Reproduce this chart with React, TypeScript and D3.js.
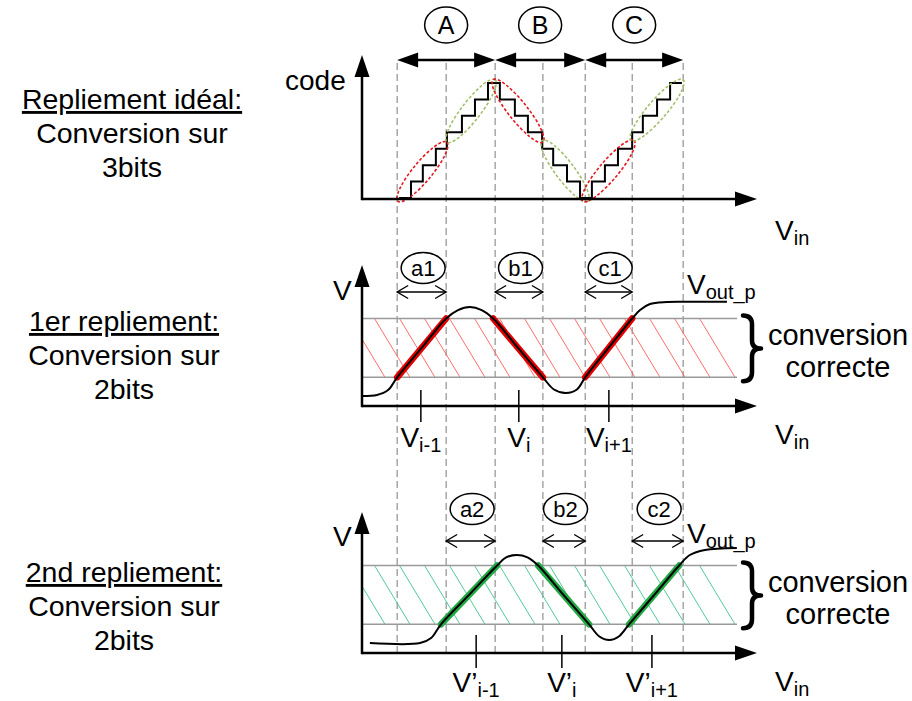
import React from 'react';
import * as d3 from 'd3';

const W = 912;
const H = 701;
const FONT = 'Liberation Sans, Arial, Helvetica, sans-serif';

// Vin positions of the dashed folding boundaries
const boundaries = [8.9, 21.3, 33.7, 45.8, 56.5, 68.4, 81.3];
const zones = ['A', 'B', 'C'];

// ideal 3-bit folded staircase
const stairEdges = [9.4, 12.4, 15.4, 18.7, 21.5, 25.3, 28.6, 31.9, 34.9, 38.7, 42.0, 45.6, 48.4, 51.9, 55.2, 58.2, 61.5, 64.8, 68.4, 71.1, 74.7, 78.0, 81.0];
const stairCodes = [0, 1, 2, 3, 4, 5, 6, 7, 6, 5, 4, 3, 2, 1, 0, 1, 2, 3, 4, 5, 6, 7];

// dotted groupings on the staircase: [vin, code] start / end, and which folding they belong to
const groupStart = [[9.1, -0.2], [21.5, 3.4], [33.2, 7.2], [45.6, 3.5], [55.9, -0.2], [68.1, 3.5]];
const groupEnd = [[21.5, 3.4], [33.7, 7.2], [45.8, 3.4], [57.2, -0.2], [68.9, 3.5], [81.3, 7.2]];
const groupFold = [1, 2, 1, 2, 1, 2];

// 1st folding output
const fold1Vin = [0, 3.8, 6.6, 8.9, 15.1, 21.3, 24.3, 27.3, 30.3, 33.2, 39.5, 45.8, 48.6, 51.6, 54.4, 56.5, 62.4, 68.4, 70.4, 72.9, 77.2, 81.3, 92.4];
const fold1V = [7.1, 7.9, 11.4, 20.5, 41.5, 62.5, 68.5, 70.7, 68.5, 62.5, 41.5, 20.5, 11.8, 9.3, 11.8, 20.5, 41.5, 62.5, 68.6, 72.9, 74.3, 74.5, 74.5];
const fold1Linear = [[8.9, 21.3], [33.2, 45.8], [56.5, 68.4]];
const fold1Sub = ['a1', 'b1', 'c1'];
const fold1Ticks = [14.9, 39.7, 62.5];

// 2nd folding output
const fold2Vin = [2.0, 14.7, 17.5, 20.0, 27.1, 34.2, 36.5, 39.2, 41.9, 44.6, 51.0, 57.5, 60.0, 62.6, 65.1, 67.6, 74.0, 80.3, 83.0, 86.8, 94.9];
const fold2V = [7.1, 7.1, 10.7, 20.5, 41.5, 62.5, 68.3, 70.0, 68.3, 62.5, 41.5, 20.5, 12.0, 9.3, 12.0, 20.5, 41.5, 62.5, 70.0, 73.6, 75.0];
const fold2Linear = [[20.0, 34.2], [44.6, 57.5], [67.6, 80.3]];
const fold2Sub = ['a2', 'b2', 'c2'];
const fold2Ticks = [28.9, 50.6, 73.4];

const tickSubs = ['i-1', 'i', 'i+1'];
const band = [20.5, 62.5];

const x = d3.scaleLinear().domain([0, 100]).range([362, 757]);
const yCode = d3.scaleLinear().domain([0, 7]).range([198, 83]);
const yV1 = d3.scaleLinear().domain([0, 100]).range([406, 266]);
const yV2 = d3.scaleLinear().domain([0, 100]).range([653, 513]);

const AXIS_X0 = x(0);
const AXIS_X1 = x(100);
const BAND_X1 = 737;

function Axes({ yBase, yTop }: { yBase: number; yTop: number }) {
  return (
    <g>
      <line x1={AXIS_X0} y1={yBase} x2={AXIS_X1 - 18} y2={yBase} stroke="#000" strokeWidth={2.5} />
      <polygon points={`${AXIS_X1},${yBase} ${AXIS_X1 - 22},${yBase - 7.5} ${AXIS_X1 - 22},${yBase + 7.5}`} fill="#000" />
      <line x1={AXIS_X0} y1={yBase + 1.2} x2={AXIS_X0} y2={yTop + 18} stroke="#000" strokeWidth={2.5} />
      <polygon points={`${AXIS_X0},${yTop} ${AXIS_X0 - 7.5},${yTop + 22} ${AXIS_X0 + 7.5},${yTop + 22}`} fill="#000" />
    </g>
  );
}

function VinLabel({ y }: { y: number }) {
  return (
    <text x={775} y={y} fontSize={28}>
      V<tspan fontSize={20} dy={5}>in</tspan>
    </text>
  );
}

function OpenArrow({ x0, x1, y }: { x0: number; x1: number; y: number }) {
  return (
    <g stroke="#000" strokeWidth={1.4} fill="none">
      <line x1={x0} y1={y} x2={x1} y2={y} />
      <path d={`M${x0 + 11},${y - 6.5} L${x0},${y} L${x0 + 11},${y + 6.5}`} />
      <path d={`M${x1 - 11},${y - 6.5} L${x1},${y} L${x1 - 11},${y + 6.5}`} />
    </g>
  );
}

function Brace({ x0, top, bot }: { x0: number; top: number; bot: number }) {
  const mid = (top + bot) / 2;
  const d = `M${x0},${top} Q${x0 + 9},${top} ${x0 + 9},${top + 9} L${x0 + 9},${mid - 8} Q${x0 + 9},${mid} ${x0 + 18},${mid} Q${x0 + 9},${mid} ${x0 + 9},${mid + 8} L${x0 + 9},${bot - 9} Q${x0 + 9},${bot} ${x0},${bot}`;
  return <path d={d} fill="none" stroke="#000" strokeWidth={4.5} strokeLinecap="round" strokeLinejoin="round" />;
}

function FoldPanel({
  id, yS, vin, v, linear, subs, ticks, hatch, thick, circleY, arrowY, subPairs, tickTop, tickBot, labelY, prime, yLabel, outY,
}: {
  id: string; yS: d3.ScaleLinear<number, number>; vin: number[]; v: number[]; linear: number[][]; subs: string[];
  ticks: number[]; hatch: string; thick: string; circleY: number; arrowY: number; subPairs: number[][];
  tickTop: number; tickBot: number; labelY: number; prime: boolean; yLabel: number; outY: number;
}) {
  const yBase = yS(0);
  const bTop = yS(band[1]);
  const bBot = yS(band[0]);
  const line = d3.line<number>().x((_, i) => x(vin[i])).y((_, i) => yS(v[i])).curve(d3.curveCatmullRom.alpha(0.5));
  const hatchLines: number[] = [];
  for (let bx = BAND_X1 - 2; bx > AXIS_X0 - 40; bx -= 25) hatchLines.push(bx);
  const slant = 35 * (bBot - bTop) / 58;
  return (
    <g>
      <defs>
        <clipPath id={id}>
          <rect x={AXIS_X0} y={bTop} width={BAND_X1 - AXIS_X0} height={bBot - bTop} />
        </clipPath>
      </defs>
      <g clipPath={`url(#${id})`} stroke={hatch} strokeWidth={0.9}>
        {hatchLines.map((bx) => (
          <line key={bx} x1={bx - slant} y1={bTop} x2={bx} y2={bBot} />
        ))}
      </g>
      <line x1={AXIS_X0} y1={bTop} x2={BAND_X1} y2={bTop} stroke="#9a9a9a" strokeWidth={1.5} />
      <line x1={AXIS_X0} y1={bBot} x2={BAND_X1} y2={bBot} stroke="#9a9a9a" strokeWidth={1.5} />
      {linear.map(([a, b], i) => {
        const rising = i % 2 === 0;
        return (
          <line key={i} x1={x(a)} y1={rising ? bBot : bTop} x2={x(b)} y2={rising ? bTop : bBot}
            stroke={thick} strokeWidth={6.5} strokeLinecap="round" />
        );
      })}
      <path d={line(vin) || ''} fill="none" stroke="#000" strokeWidth={2} />
      <Axes yBase={yBase} yTop={yS(100) - 1} />
      {subPairs.map(([a, b], i) => {
        const cx = (x(boundaries[a]) + x(boundaries[b])) / 2 + 1.5;
        return (
          <g key={subs[i]}>
            <ellipse cx={cx} cy={circleY} rx={22} ry={15.5} fill="#fff" stroke="#000" strokeWidth={1.5} />
            <text x={cx} y={circleY + 7.5} fontSize={22} textAnchor="middle">{subs[i]}</text>
            <OpenArrow x0={x(boundaries[a])} x1={x(boundaries[b])} y={arrowY} />
          </g>
        );
      })}
      {ticks.map((t, i) => (
        <g key={t}>
          <line x1={x(t)} y1={tickTop} x2={x(t)} y2={tickBot} stroke="#000" strokeWidth={1.5} />
          <text x={x(t)} y={labelY} textAnchor="middle" fontSize={28}>
            {prime ? 'V\u2019' : 'V'}
            <tspan fontSize={20} dy={5}>{tickSubs[i]}</tspan>
          </text>
        </g>
      ))}
      <text x={333} y={yLabel} fontSize={28}>V</text>
      <text x={687} y={outY} fontSize={28}>
        V<tspan fontSize={20} dy={5}>out_p</tspan>
      </text>
      <Brace x0={743} top={bTop - 3} bot={bBot + 4} />
      <text x={838} y={bTop + 26} fontSize={29} textAnchor="middle">conversion</text>
      <text x={838} y={bBot + 0} fontSize={29} textAnchor="middle">correcte</text>
    </g>
  );
}

function LeftBlock({ lines, y0, cx }: { lines: string[]; y0: number; cx: number }) {
  return (
    <g>
      {lines.map((t, i) => (
        <text key={i} x={cx} y={y0 + i * 34} fontSize={28.5} textAnchor="middle"
          style={i === 0 ? { textDecoration: 'underline' } : undefined}>
          {t}
        </text>
      ))}
    </g>
  );
}

export default function App() {
  const stairLine = d3.line<number>()
    .x((e) => x(e))
    .y((_, i) => yCode(i < stairCodes.length ? stairCodes[i] : stairCodes[stairCodes.length - 1]))
    .curve(d3.curveStepAfter);

  return (
    <div style={{ position: 'absolute', left: 0, top: 0 }}>
      <svg width={W} height={H} style={{ display: 'block', fontFamily: FONT }}>
        <rect width={W} height={H} fill="#fff" />

        {/* dashed boundaries */}
        {boundaries.map((b) => (
          <line key={b} x1={x(b)} y1={63} x2={x(b)} y2={653} stroke="#7a7a7a" strokeWidth={1} strokeDasharray="7 4" />
        ))}

        {/* zone arrows A B C */}
        {zones.map((z, i) => {
          const x0 = x(boundaries[2 * i]);
          const x1 = x(boundaries[2 * i + 2]);
          const y = 60;
          const cx = (x0 + x1) / 2;
          return (
            <g key={z}>
              <line x1={x0 + 12} y1={y} x2={x1 - 12} y2={y} stroke="#000" strokeWidth={2.5} />
              <polygon points={`${x0},${y} ${x0 + 21},${y - 7.5} ${x0 + 21},${y + 7.5}`} fill="#000" />
              <polygon points={`${x1},${y} ${x1 - 21},${y - 7.5} ${x1 - 21},${y + 7.5}`} fill="#000" />
              <ellipse cx={cx} cy={25} rx={21.5} ry={18} fill="#fff" stroke="#000" strokeWidth={1.5} />
              <text x={cx} y={34} fontSize={25} textAnchor="middle">{z}</text>
            </g>
          );
        })}

        {/* ideal folding panel */}
        <path d={stairLine(stairEdges) || ''} fill="none" stroke="#000" strokeWidth={2} />
        {groupStart.map((s, i) => {
          const x1 = x(s[0]);
          const y1 = yCode(s[1]);
          const x2 = x(groupEnd[i][0]);
          const y2 = yCode(groupEnd[i][1]);
          const cx = (x1 + x2) / 2;
          const cy = (y1 + y2) / 2;
          const len = Math.hypot(x2 - x1, y2 - y1);
          const ang = (Math.atan2(y2 - y1, x2 - x1) * 180) / Math.PI;
          return (
            <ellipse key={i} cx={cx} cy={cy} rx={len / 2} ry={9.5} fill="none"
              stroke={groupFold[i] === 1 ? '#e3161e' : '#a2bf69'} strokeWidth={1.6} strokeDasharray="3 2"
              transform={`rotate(${ang},${cx},${cy})`} />
          );
        })}
        <Axes yBase={199} yTop={55} />
        <text x={285} y={90} fontSize={28}>code</text>
        <VinLabel y={240} />

        <FoldPanel id="band1" yS={yV1} vin={fold1Vin} v={fold1V} linear={fold1Linear} subs={fold1Sub}
          ticks={fold1Ticks} hatch="#ff5c5c" thick="#e00000" circleY={268} arrowY={292}
          subPairs={[[0, 1], [2, 3], [4, 5]]} tickTop={390} tickBot={422} labelY={447} prime={false}
          yLabel={300} outY={294} />
        <VinLabel y={444} />

        <FoldPanel id="band2" yS={yV2} vin={fold2Vin} v={fold2V} linear={fold2Linear} subs={fold2Sub}
          ticks={fold2Ticks} hatch="#3cc48a" thick="#22a844" circleY={509} arrowY={541}
          subPairs={[[1, 2], [3, 4], [5, 6]]} tickTop={635} tickBot={668} labelY={692} prime={true}
          yLabel={546} outY={543} />
        <VinLabel y={691} />

        <LeftBlock lines={['Repliement idéal:', 'Conversion sur', '3bits']} y0={109} cx={132} />
        <LeftBlock lines={['1er repliement:', 'Conversion sur', '2bits']} y0={331} cx={124} />
        <LeftBlock lines={['2nd repliement:', 'Conversion sur', '2bits']} y0={582} cx={124} />
      </svg>
    </div>
  );
}
